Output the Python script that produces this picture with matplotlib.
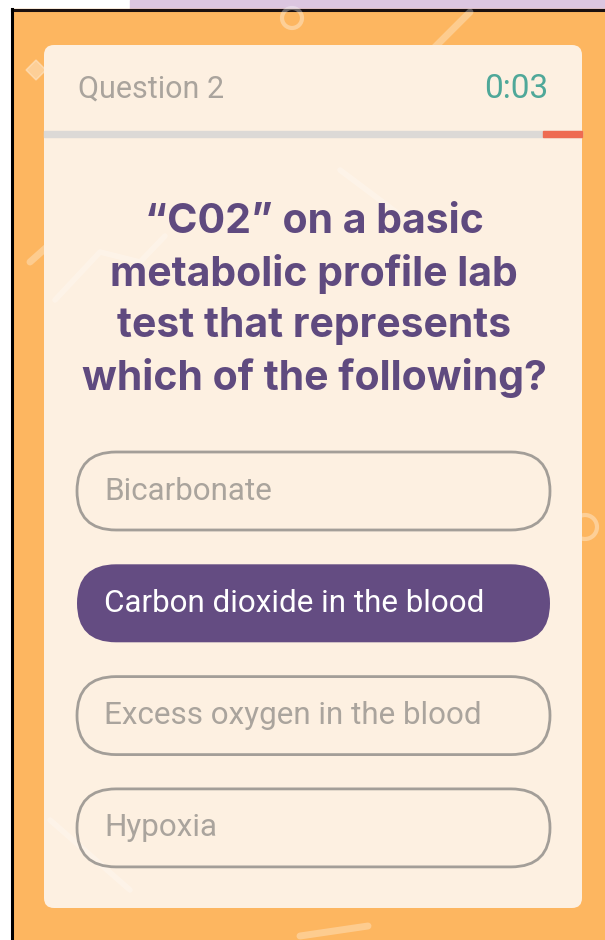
import matplotlib.pyplot as plt
from matplotlib.patches import FancyBboxPatch, Rectangle, Circle, Polygon

# screen content
header_label = "Question 2"
timer_text = "0:03"
time_left_frac = 0.072   # red part of the timer bar, from the right end
question_lines = ["\u201cC02\u201d on a basic", "metabolic profile lab",
                  "test that represents", "which of the following?"]
options = ["Bicarbonate", "Carbon dioxide in the blood",
           "Excess oxygen in the blood", "Hypoxia"]
selected = 1

ORANGE = "#fdb660"
CARD = "#fdf0e1"
PURPLE = "#5f4a7f"
PILL_FILL = "#644c82"
GREY_TXT = "#aaa49d"
OUTLINE = "#a39e98"
TEAL = "#4fa899"
BAR_GREY = "#dcd9d6"
BAR_RED = "#ee6b52"

W, H = 605, 940
fig = plt.figure(figsize=(W / 100, H / 100), dpi=100)
ax = fig.add_axes([0, 0, 1, 1])
ax.set_xlim(0, W)
ax.set_ylim(H, 0)
ax.axis("off")

# page frame around the phone screenshot
ax.add_patch(Rectangle((0, 0), W, H, color="white", zorder=0))
ax.add_patch(Rectangle((130, 0), W - 130, 9, color="#dcc6e0", zorder=1))
ax.add_patch(Rectangle((12, 9), W - 12, H - 9, color=ORANGE, zorder=1))
ax.plot([12, W], [9.5, 9.5], color="#1a1010", lw=2.2, zorder=2)
ax.plot([12, 12], [9, H], color="black", lw=2.2, zorder=2)

# faint background doodles
deco = dict(color="white", alpha=0.3, lw=5, solid_capstyle="round", zorder=2)
ax.plot([430, 470], [52, 12], **deco)
ax.plot([300, 368], [936, 926], **deco)
ax.plot([30, 48, 62], [262, 246, 240], **deco)
ax.add_patch(Circle((292, 18), 10, fill=False, ec="white", lw=3, alpha=0.35, zorder=2))
ax.add_patch(Circle((585, 527), 12, fill=False, ec="white", lw=3, alpha=0.35, zorder=2))
ax.add_patch(Polygon([[26, 70], [36, 60], [46, 70], [36, 80]], color="white", alpha=0.35, zorder=2))

# card
card_x0, card_x1, card_y0, card_y1 = 44, 582, 45, 908
ax.add_patch(FancyBboxPatch((card_x0, card_y0), card_x1 - card_x0, card_y1 - card_y0,
                            boxstyle="round,pad=0,rounding_size=10",
                            fc=CARD, ec="none", zorder=3))
deco_in = dict(color="white", alpha=0.25, lw=4, solid_capstyle="round", zorder=3.5)
ax.plot([55, 100, 140, 165], [300, 252, 262, 236], **deco_in)
ax.plot([50, 130], [820, 890], **deco_in)
ax.plot([340, 400], [170, 215], **deco_in)

# header
ax.text(78, 89, header_label, fontsize=22, color=GREY_TXT, family="Roboto",
        va="center", ha="left", zorder=5)
ax.text(548, 89, timer_text, fontsize=24, color=TEAL, family="Roboto",
        va="center", ha="right", zorder=5)

# timer bar
bar_y, bar_h = 131, 6
bar_w = card_x1 - card_x0
ax.add_patch(Rectangle((card_x0, bar_y), bar_w, bar_h, color=BAR_GREY, zorder=4))
ax.add_patch(Rectangle((card_x1 - bar_w * time_left_frac, bar_y), bar_w * time_left_frac,
                       bar_h, color=BAR_RED, zorder=4))

# question
for i, line in enumerate(question_lines):
    ax.text(314, 222 + i * 52, line, fontsize=29.5, fontweight="bold", color=PURPLE,
            family="Inter", ha="center", va="center", zorder=5)

# answer pills
pill_x0, pill_x1, pill_h = 77, 550, 78
for i, opt in enumerate(options):
    top = 452 + i * 112.3
    is_sel = i == selected
    ax.add_patch(FancyBboxPatch((pill_x0, top), pill_x1 - pill_x0, pill_h,
                                boxstyle=f"round,pad=0,rounding_size={pill_h / 2}",
                                fc=PILL_FILL if is_sel else "none",
                                ec="none" if is_sel else OUTLINE, lw=2, zorder=4))
    ax.text(104, top + pill_h / 2, opt, fontsize=22.6, family="Roboto",
            color="white" if is_sel else GREY_TXT, ha="left", va="center", zorder=5)

fig.savefig("out.png", dpi=100)
